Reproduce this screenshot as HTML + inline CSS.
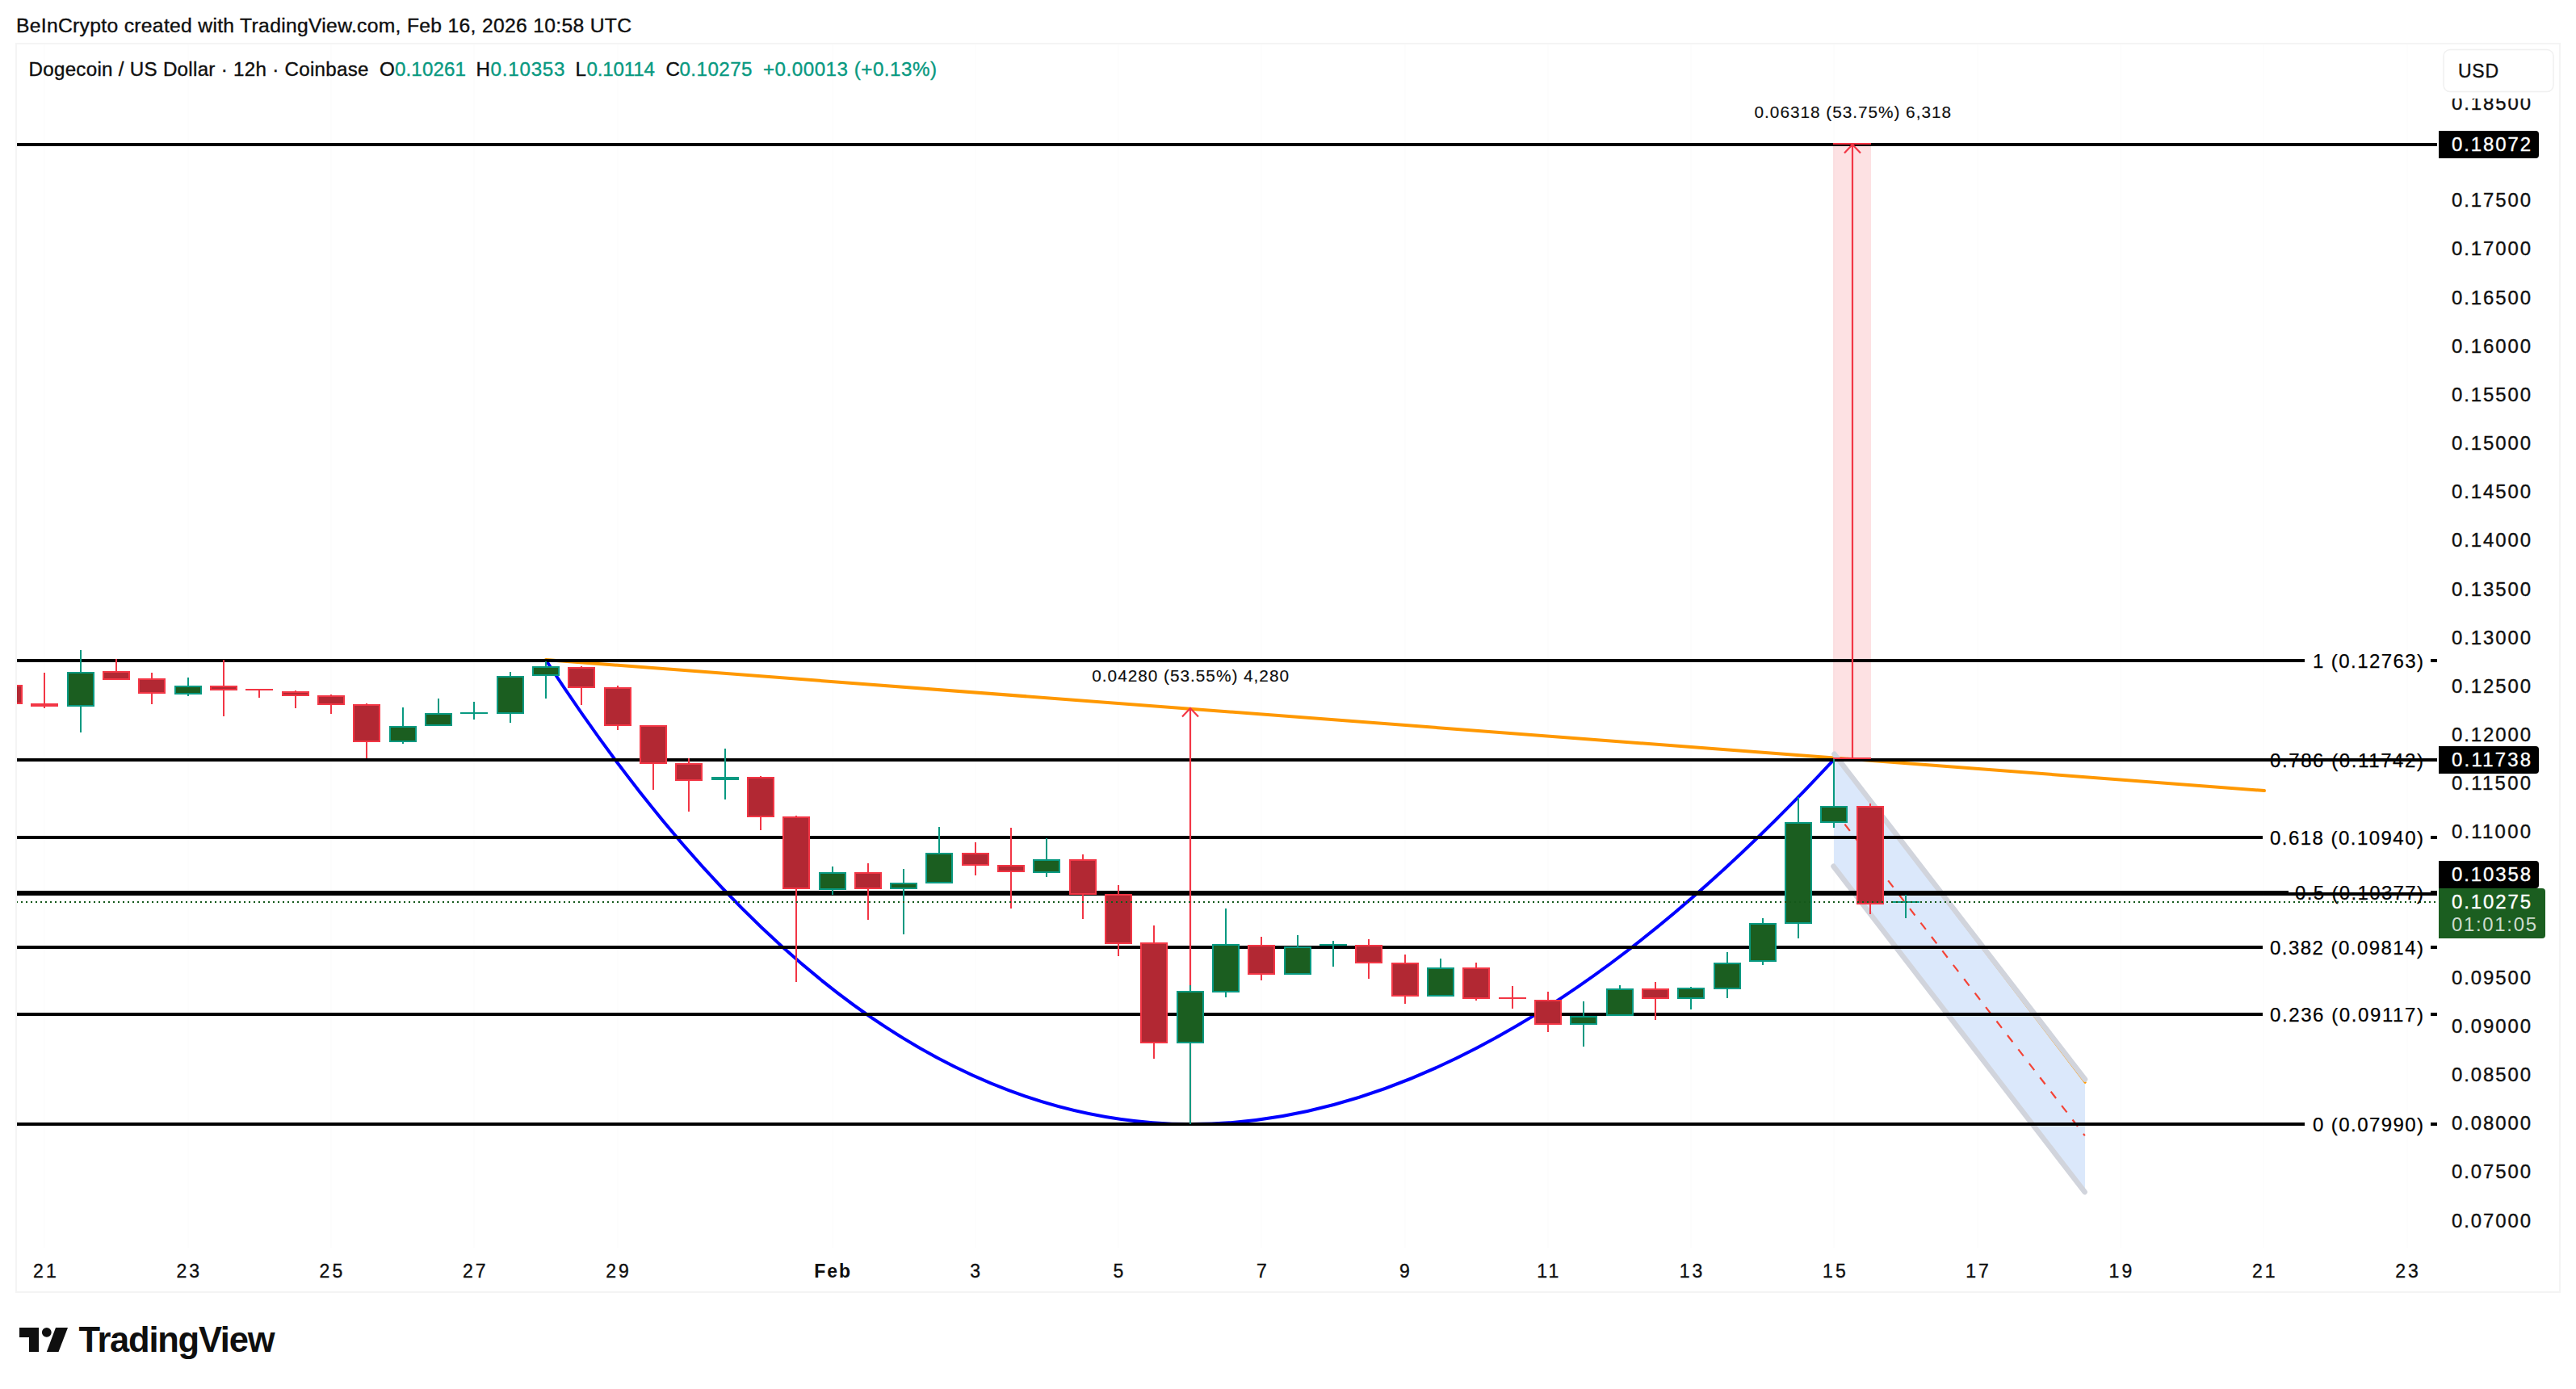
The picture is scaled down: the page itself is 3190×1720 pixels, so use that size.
<!DOCTYPE html>
<html lang="en"><head><meta charset="utf-8"><title>Dogecoin / US Dollar chart</title>
<style>html,body{margin:0;padding:0;background:#fff}body{width:3190px;height:1720px;overflow:hidden}svg{display:block}</style></head>
<body>
<svg width="3190" height="1720" viewBox="0 0 3190 1720" font-family='"Liberation Sans", sans-serif'>
<rect width="3190" height="1720" fill="#fff"/>
<rect x="20" y="54" width="3150" height="1546" fill="none" stroke="#f4f4f4" stroke-width="2"/>
<defs><clipPath id="pane"><rect x="21" y="55" width="2997" height="1490"/></clipPath></defs>
<g clip-path="url(#pane)">
<g fill="#fdfdfd" shape-rendering="crispEdges">
<rect x="54" y="55" width="2" height="1490"/>
<rect x="232" y="55" width="2" height="1490"/>
<rect x="409" y="55" width="2" height="1490"/>
<rect x="586" y="55" width="2" height="1490"/>
<rect x="764" y="55" width="2" height="1490"/>
<rect x="1030" y="55" width="2" height="1490"/>
<rect x="1207" y="55" width="2" height="1490"/>
<rect x="1384" y="55" width="2" height="1490"/>
<rect x="1561" y="55" width="2" height="1490"/>
<rect x="1739" y="55" width="2" height="1490"/>
<rect x="1916" y="55" width="2" height="1490"/>
<rect x="2093" y="55" width="2" height="1490"/>
<rect x="2270" y="55" width="2" height="1490"/>
<rect x="2448" y="55" width="2" height="1490"/>
<rect x="2625" y="55" width="2" height="1490"/>
<rect x="2802" y="55" width="2" height="1490"/>
<rect x="2980" y="55" width="2" height="1490"/>
</g>
<line x1="676" y1="817" x2="2804" y2="979" stroke="#ff9800" stroke-width="4" stroke-linecap="round"/>
<path d="M676.4 818 Q1380.7 1901 2270.8 940.8" fill="none" stroke="#0000ff" stroke-width="4" stroke-linecap="round"/>
<rect x="2270" y="178" width="47" height="761" fill="#f23645" fill-opacity="0.15"/>
<polygon points="2271,933.7 2582,1336.5 2582,1476.1 2271,1072.7" fill="#dbe8fb"/>
<line x1="2271.5" y1="934" x2="2582.2" y2="1340.3" stroke="#ff9800" stroke-width="3" stroke-linecap="round"/>
<g stroke="#d1d4dc" stroke-width="6.5" stroke-linecap="round">
<line x1="2271.5" y1="933.7" x2="2582" y2="1336.5"/>
<line x1="2270.5" y1="1072.7" x2="2581.6" y2="1476.1"/>
</g>
<line x1="2271" y1="1003.2" x2="2581.8" y2="1406.3" stroke="#f44336" stroke-width="2.2" stroke-dasharray="10.5 11.5"/>
<g fill="#000" shape-rendering="crispEdges">
<rect x="21" y="816" width="2833" height="4"/>
<rect x="3010" y="816" width="8" height="4"/>
<rect x="21" y="939" width="2781" height="4"/>
<rect x="3010" y="939" width="8" height="4"/>
<rect x="21" y="1035" width="2781" height="4"/>
<rect x="3010" y="1035" width="8" height="4"/>
<rect x="21" y="1103" width="2813" height="4"/>
<rect x="3010" y="1103" width="8" height="4"/>
<rect x="21" y="1171" width="2781" height="4"/>
<rect x="3010" y="1171" width="8" height="4"/>
<rect x="21" y="1254" width="2781" height="4"/>
<rect x="3010" y="1254" width="8" height="4"/>
<rect x="21" y="1390" width="2833" height="4"/>
<rect x="3010" y="1390" width="8" height="4"/>
<rect x="21" y="177" width="2997" height="4"/>
<rect x="21" y="939" width="2997" height="4"/>
<rect x="21" y="1105" width="2997" height="4"/>
</g>
<g stroke="#f23645" stroke-width="2.2" fill="none">
<line x1="1474" y1="1392" x2="1474" y2="877"/>
<polyline points="1464,887.5 1474,877 1484,887.5"/>
<line x1="2294" y1="938" x2="2294" y2="179"/>
<polyline points="2284,189.5 2294,179 2304,189.5"/>
<line x1="2270" y1="178" x2="2317" y2="178"/>
<line x1="2270" y1="939" x2="2317" y2="939"/>
</g>
<g shape-rendering="crispEdges">
<rect x="-6" y="848" width="34" height="24" fill="#f23645"/>
<rect x="-4" y="850" width="30" height="20" fill="#b22833"/>
<rect x="54" y="833" width="2" height="44" fill="#f23645"/>
<rect x="38" y="871" width="34" height="4" fill="#f23645"/>
<rect x="99" y="805" width="2" height="102" fill="#089981"/>
<rect x="83" y="832" width="34" height="43" fill="#089981"/>
<rect x="85" y="834" width="30" height="39" fill="#1b5e20"/>
<rect x="143" y="816" width="2" height="26" fill="#f23645"/>
<rect x="127" y="831" width="34" height="11" fill="#f23645"/>
<rect x="129" y="833" width="30" height="7" fill="#b22833"/>
<rect x="187" y="833" width="2" height="39" fill="#f23645"/>
<rect x="171" y="840" width="34" height="19" fill="#f23645"/>
<rect x="173" y="842" width="30" height="15" fill="#b22833"/>
<rect x="232" y="839" width="2" height="23" fill="#089981"/>
<rect x="216" y="849" width="34" height="11" fill="#089981"/>
<rect x="218" y="851" width="30" height="7" fill="#1b5e20"/>
<rect x="276" y="817" width="2" height="70" fill="#f23645"/>
<rect x="260" y="849" width="34" height="6" fill="#f23645"/>
<rect x="262" y="851" width="30" height="2" fill="#b22833"/>
<rect x="320" y="853" width="2" height="11" fill="#f23645"/>
<rect x="304" y="853" width="34" height="2" fill="#f23645"/>
<rect x="365" y="855" width="2" height="22" fill="#f23645"/>
<rect x="349" y="856" width="34" height="6" fill="#f23645"/>
<rect x="351" y="858" width="30" height="2" fill="#b22833"/>
<rect x="409" y="860" width="2" height="24" fill="#f23645"/>
<rect x="393" y="861" width="34" height="12" fill="#f23645"/>
<rect x="395" y="863" width="30" height="8" fill="#b22833"/>
<rect x="453" y="871" width="2" height="68" fill="#f23645"/>
<rect x="437" y="872" width="34" height="47" fill="#f23645"/>
<rect x="439" y="874" width="30" height="43" fill="#b22833"/>
<rect x="498" y="876" width="2" height="45" fill="#089981"/>
<rect x="482" y="899" width="34" height="20" fill="#089981"/>
<rect x="484" y="901" width="30" height="16" fill="#1b5e20"/>
<rect x="542" y="865" width="2" height="34" fill="#089981"/>
<rect x="526" y="883" width="34" height="16" fill="#089981"/>
<rect x="528" y="885" width="30" height="12" fill="#1b5e20"/>
<rect x="586" y="869" width="2" height="22" fill="#089981"/>
<rect x="570" y="882" width="34" height="2" fill="#089981"/>
<rect x="631" y="832" width="2" height="63" fill="#089981"/>
<rect x="615" y="837" width="34" height="47" fill="#089981"/>
<rect x="617" y="839" width="30" height="43" fill="#1b5e20"/>
<rect x="675" y="819" width="2" height="46" fill="#089981"/>
<rect x="659" y="825" width="34" height="12" fill="#089981"/>
<rect x="661" y="827" width="30" height="8" fill="#1b5e20"/>
<rect x="719" y="825" width="2" height="48" fill="#f23645"/>
<rect x="703" y="826" width="34" height="26" fill="#f23645"/>
<rect x="705" y="828" width="30" height="22" fill="#b22833"/>
<rect x="764" y="849" width="2" height="55" fill="#f23645"/>
<rect x="748" y="851" width="34" height="48" fill="#f23645"/>
<rect x="750" y="853" width="30" height="44" fill="#b22833"/>
<rect x="808" y="898" width="2" height="80" fill="#f23645"/>
<rect x="792" y="898" width="34" height="48" fill="#f23645"/>
<rect x="794" y="900" width="30" height="44" fill="#b22833"/>
<rect x="852" y="939" width="2" height="66" fill="#f23645"/>
<rect x="836" y="945" width="34" height="22" fill="#f23645"/>
<rect x="838" y="947" width="30" height="18" fill="#b22833"/>
<rect x="897" y="927" width="2" height="63" fill="#089981"/>
<rect x="881" y="962" width="34" height="4" fill="#089981"/>
<rect x="941" y="961" width="2" height="67" fill="#f23645"/>
<rect x="925" y="962" width="34" height="50" fill="#f23645"/>
<rect x="927" y="964" width="30" height="46" fill="#b22833"/>
<rect x="985" y="1010" width="2" height="206" fill="#f23645"/>
<rect x="969" y="1011" width="34" height="90" fill="#f23645"/>
<rect x="971" y="1013" width="30" height="86" fill="#b22833"/>
<rect x="1030" y="1073" width="2" height="35" fill="#089981"/>
<rect x="1014" y="1080" width="34" height="22" fill="#089981"/>
<rect x="1016" y="1082" width="30" height="18" fill="#1b5e20"/>
<rect x="1074" y="1069" width="2" height="70" fill="#f23645"/>
<rect x="1058" y="1080" width="34" height="21" fill="#f23645"/>
<rect x="1060" y="1082" width="30" height="17" fill="#b22833"/>
<rect x="1118" y="1076" width="2" height="81" fill="#089981"/>
<rect x="1102" y="1093" width="34" height="8" fill="#089981"/>
<rect x="1104" y="1095" width="30" height="4" fill="#1b5e20"/>
<rect x="1162" y="1024" width="2" height="70" fill="#089981"/>
<rect x="1146" y="1056" width="34" height="38" fill="#089981"/>
<rect x="1148" y="1058" width="30" height="34" fill="#1b5e20"/>
<rect x="1207" y="1043" width="2" height="41" fill="#f23645"/>
<rect x="1191" y="1056" width="34" height="16" fill="#f23645"/>
<rect x="1193" y="1058" width="30" height="12" fill="#b22833"/>
<rect x="1251" y="1025" width="2" height="100" fill="#f23645"/>
<rect x="1235" y="1071" width="34" height="9" fill="#f23645"/>
<rect x="1237" y="1073" width="30" height="5" fill="#b22833"/>
<rect x="1295" y="1038" width="2" height="48" fill="#089981"/>
<rect x="1279" y="1064" width="34" height="17" fill="#089981"/>
<rect x="1281" y="1066" width="30" height="13" fill="#1b5e20"/>
<rect x="1340" y="1058" width="2" height="80" fill="#f23645"/>
<rect x="1324" y="1064" width="34" height="44" fill="#f23645"/>
<rect x="1326" y="1066" width="30" height="40" fill="#b22833"/>
<rect x="1384" y="1096" width="2" height="88" fill="#f23645"/>
<rect x="1368" y="1107" width="34" height="62" fill="#f23645"/>
<rect x="1370" y="1109" width="30" height="58" fill="#b22833"/>
<rect x="1428" y="1146" width="2" height="165" fill="#f23645"/>
<rect x="1412" y="1167" width="34" height="125" fill="#f23645"/>
<rect x="1414" y="1169" width="30" height="121" fill="#b22833"/>
<rect x="1473" y="1220" width="2" height="172" fill="#089981"/>
<rect x="1457" y="1227" width="34" height="65" fill="#089981"/>
<rect x="1459" y="1229" width="30" height="61" fill="#1b5e20"/>
<rect x="1517" y="1125" width="2" height="110" fill="#089981"/>
<rect x="1501" y="1169" width="34" height="60" fill="#089981"/>
<rect x="1503" y="1171" width="30" height="56" fill="#1b5e20"/>
<rect x="1561" y="1160" width="2" height="54" fill="#f23645"/>
<rect x="1545" y="1170" width="34" height="37" fill="#f23645"/>
<rect x="1547" y="1172" width="30" height="33" fill="#b22833"/>
<rect x="1606" y="1158" width="2" height="49" fill="#089981"/>
<rect x="1590" y="1172" width="34" height="35" fill="#089981"/>
<rect x="1592" y="1174" width="30" height="31" fill="#1b5e20"/>
<rect x="1650" y="1165" width="2" height="32" fill="#089981"/>
<rect x="1634" y="1169" width="34" height="2" fill="#089981"/>
<rect x="1694" y="1163" width="2" height="49" fill="#f23645"/>
<rect x="1678" y="1170" width="34" height="23" fill="#f23645"/>
<rect x="1680" y="1172" width="30" height="19" fill="#b22833"/>
<rect x="1739" y="1182" width="2" height="61" fill="#f23645"/>
<rect x="1723" y="1192" width="34" height="42" fill="#f23645"/>
<rect x="1725" y="1194" width="30" height="38" fill="#b22833"/>
<rect x="1783" y="1187" width="2" height="47" fill="#089981"/>
<rect x="1767" y="1198" width="34" height="36" fill="#089981"/>
<rect x="1769" y="1200" width="30" height="32" fill="#1b5e20"/>
<rect x="1827" y="1192" width="2" height="47" fill="#f23645"/>
<rect x="1811" y="1198" width="34" height="39" fill="#f23645"/>
<rect x="1813" y="1200" width="30" height="35" fill="#b22833"/>
<rect x="1872" y="1221" width="2" height="28" fill="#f23645"/>
<rect x="1856" y="1235" width="34" height="2" fill="#f23645"/>
<rect x="1916" y="1228" width="2" height="50" fill="#f23645"/>
<rect x="1900" y="1238" width="34" height="31" fill="#f23645"/>
<rect x="1902" y="1240" width="30" height="27" fill="#b22833"/>
<rect x="1960" y="1240" width="2" height="56" fill="#089981"/>
<rect x="1944" y="1258" width="34" height="11" fill="#089981"/>
<rect x="1946" y="1260" width="30" height="7" fill="#1b5e20"/>
<rect x="2005" y="1220" width="2" height="38" fill="#089981"/>
<rect x="1989" y="1224" width="34" height="34" fill="#089981"/>
<rect x="1991" y="1226" width="30" height="30" fill="#1b5e20"/>
<rect x="2049" y="1216" width="2" height="47" fill="#f23645"/>
<rect x="2033" y="1224" width="34" height="13" fill="#f23645"/>
<rect x="2035" y="1226" width="30" height="9" fill="#b22833"/>
<rect x="2093" y="1222" width="2" height="28" fill="#089981"/>
<rect x="2077" y="1223" width="34" height="14" fill="#089981"/>
<rect x="2079" y="1225" width="30" height="10" fill="#1b5e20"/>
<rect x="2138" y="1179" width="2" height="57" fill="#089981"/>
<rect x="2122" y="1192" width="34" height="33" fill="#089981"/>
<rect x="2124" y="1194" width="30" height="29" fill="#1b5e20"/>
<rect x="2182" y="1137" width="2" height="58" fill="#089981"/>
<rect x="2166" y="1143" width="34" height="48" fill="#089981"/>
<rect x="2168" y="1145" width="30" height="44" fill="#1b5e20"/>
<rect x="2226" y="987" width="2" height="175" fill="#089981"/>
<rect x="2210" y="1018" width="34" height="126" fill="#089981"/>
<rect x="2212" y="1020" width="30" height="122" fill="#1b5e20"/>
<rect x="2270" y="940" width="2" height="85" fill="#089981"/>
<rect x="2254" y="998" width="34" height="21" fill="#089981"/>
<rect x="2256" y="1000" width="30" height="17" fill="#1b5e20"/>
<rect x="2315" y="995" width="2" height="137" fill="#f23645"/>
<rect x="2299" y="998" width="34" height="122" fill="#f23645"/>
<rect x="2301" y="1000" width="30" height="118" fill="#b22833"/>
<rect x="2359" y="1108" width="2" height="29" fill="#089981"/>
<rect x="2343" y="1116" width="34" height="2" fill="#089981"/>
</g>
<line x1="20" y1="1117" x2="3018" y2="1117" stroke="#14581a" stroke-width="2" stroke-dasharray="2 4" shape-rendering="crispEdges"/>
</g>
<text transform="translate(1352.3 843.6) scale(1.04 1)" font-size="20" fill="#0f0f0f" stroke="#0f0f0f" stroke-width="0.15" textLength="234.33" lengthAdjust="spacing">0.04280 (53.55%) 4,280</text>
<text transform="translate(2172.6 146) scale(1.04 1)" font-size="20" fill="#0f0f0f" stroke="#0f0f0f" stroke-width="0.15" textLength="234.04" lengthAdjust="spacing">0.06318 (53.75%) 6,318</text>
<text transform="translate(2864 826.8)" font-size="24" fill="#000" stroke="#000" stroke-width="0.25" textLength="137.00" lengthAdjust="spacing">1 (0.12763)</text>
<text transform="translate(2811 949.6)" font-size="24" fill="#000" stroke="#000" stroke-width="0.25" textLength="190.00" lengthAdjust="spacing">0.786 (0.11742)</text>
<text transform="translate(2811 1046.1)" font-size="24" fill="#000" stroke="#000" stroke-width="0.25" textLength="190.00" lengthAdjust="spacing">0.618 (0.10940)</text>
<text transform="translate(2842 1113.8)" font-size="24" fill="#000" stroke="#000" stroke-width="0.25" textLength="159.00" lengthAdjust="spacing">0.5 (0.10377)</text>
<text transform="translate(2811 1181.6)" font-size="24" fill="#000" stroke="#000" stroke-width="0.25" textLength="190.00" lengthAdjust="spacing">0.382 (0.09814)</text>
<text transform="translate(2811 1265.4)" font-size="24" fill="#000" stroke="#000" stroke-width="0.25" textLength="190.00" lengthAdjust="spacing">0.236 (0.09117)</text>
<text transform="translate(2864 1401.0)" font-size="24" fill="#000" stroke="#000" stroke-width="0.25" textLength="137.00" lengthAdjust="spacing">0 (0.07990)</text>
<text transform="translate(3036 135.9) scale(1.02 1)" font-size="23.5" fill="#0f0f0f" stroke="#0f0f0f" stroke-width="0.35" textLength="96.08" lengthAdjust="spacing">0.18500</text>
<text transform="translate(3036 256.3) scale(1.02 1)" font-size="23.5" fill="#0f0f0f" stroke="#0f0f0f" stroke-width="0.35" textLength="96.08" lengthAdjust="spacing">0.17500</text>
<text transform="translate(3036 316.4) scale(1.02 1)" font-size="23.5" fill="#0f0f0f" stroke="#0f0f0f" stroke-width="0.35" textLength="96.08" lengthAdjust="spacing">0.17000</text>
<text transform="translate(3036 376.6) scale(1.02 1)" font-size="23.5" fill="#0f0f0f" stroke="#0f0f0f" stroke-width="0.35" textLength="96.08" lengthAdjust="spacing">0.16500</text>
<text transform="translate(3036 436.7) scale(1.02 1)" font-size="23.5" fill="#0f0f0f" stroke="#0f0f0f" stroke-width="0.35" textLength="96.08" lengthAdjust="spacing">0.16000</text>
<text transform="translate(3036 496.9) scale(1.02 1)" font-size="23.5" fill="#0f0f0f" stroke="#0f0f0f" stroke-width="0.35" textLength="96.08" lengthAdjust="spacing">0.15500</text>
<text transform="translate(3036 557.0) scale(1.02 1)" font-size="23.5" fill="#0f0f0f" stroke="#0f0f0f" stroke-width="0.35" textLength="96.08" lengthAdjust="spacing">0.15000</text>
<text transform="translate(3036 617.2) scale(1.02 1)" font-size="23.5" fill="#0f0f0f" stroke="#0f0f0f" stroke-width="0.35" textLength="96.08" lengthAdjust="spacing">0.14500</text>
<text transform="translate(3036 677.3) scale(1.02 1)" font-size="23.5" fill="#0f0f0f" stroke="#0f0f0f" stroke-width="0.35" textLength="96.08" lengthAdjust="spacing">0.14000</text>
<text transform="translate(3036 737.5) scale(1.02 1)" font-size="23.5" fill="#0f0f0f" stroke="#0f0f0f" stroke-width="0.35" textLength="96.08" lengthAdjust="spacing">0.13500</text>
<text transform="translate(3036 797.7) scale(1.02 1)" font-size="23.5" fill="#0f0f0f" stroke="#0f0f0f" stroke-width="0.35" textLength="96.08" lengthAdjust="spacing">0.13000</text>
<text transform="translate(3036 857.8) scale(1.02 1)" font-size="23.5" fill="#0f0f0f" stroke="#0f0f0f" stroke-width="0.35" textLength="96.08" lengthAdjust="spacing">0.12500</text>
<text transform="translate(3036 918.0) scale(1.02 1)" font-size="23.5" fill="#0f0f0f" stroke="#0f0f0f" stroke-width="0.35" textLength="96.08" lengthAdjust="spacing">0.12000</text>
<text transform="translate(3036 978.1) scale(1.02 1)" font-size="23.5" fill="#0f0f0f" stroke="#0f0f0f" stroke-width="0.35" textLength="96.08" lengthAdjust="spacing">0.11500</text>
<text transform="translate(3036 1038.3) scale(1.02 1)" font-size="23.5" fill="#0f0f0f" stroke="#0f0f0f" stroke-width="0.35" textLength="96.08" lengthAdjust="spacing">0.11000</text>
<text transform="translate(3036 1218.7) scale(1.02 1)" font-size="23.5" fill="#0f0f0f" stroke="#0f0f0f" stroke-width="0.35" textLength="96.08" lengthAdjust="spacing">0.09500</text>
<text transform="translate(3036 1278.9) scale(1.02 1)" font-size="23.5" fill="#0f0f0f" stroke="#0f0f0f" stroke-width="0.35" textLength="96.08" lengthAdjust="spacing">0.09000</text>
<text transform="translate(3036 1339.1) scale(1.02 1)" font-size="23.5" fill="#0f0f0f" stroke="#0f0f0f" stroke-width="0.35" textLength="96.08" lengthAdjust="spacing">0.08500</text>
<text transform="translate(3036 1399.2) scale(1.02 1)" font-size="23.5" fill="#0f0f0f" stroke="#0f0f0f" stroke-width="0.35" textLength="96.08" lengthAdjust="spacing">0.08000</text>
<text transform="translate(3036 1459.4) scale(1.02 1)" font-size="23.5" fill="#0f0f0f" stroke="#0f0f0f" stroke-width="0.35" textLength="96.08" lengthAdjust="spacing">0.07500</text>
<text transform="translate(3036 1519.5) scale(1.02 1)" font-size="23.5" fill="#0f0f0f" stroke="#0f0f0f" stroke-width="0.35" textLength="96.08" lengthAdjust="spacing">0.07000</text>
<rect x="3020" y="56" width="148" height="66" fill="#fff"/>
<rect x="3026" y="61.5" width="136" height="52" rx="8" fill="#fff" stroke="#f0f0f0" stroke-width="1.5"/>
<text transform="translate(3044 96)" font-size="23" fill="#0f0f0f" stroke="#0f0f0f" stroke-width="0.35" textLength="50.00" lengthAdjust="spacing">USD</text>
<path d="M3020 162H3140Q3144 162 3144 166V192Q3144 196 3140 196H3020Z" fill="#000"/>
<text transform="translate(3036 187.3) scale(1.04 1)" font-size="23" fill="#fff" stroke="#fff" stroke-width="0.35" textLength="94.23" lengthAdjust="spacing">0.18072</text>
<path d="M3020 924H3140Q3144 924 3144 928V954Q3144 958 3140 958H3020Z" fill="#000"/>
<text transform="translate(3036 949.3) scale(1.04 1)" font-size="23" fill="#fff" stroke="#fff" stroke-width="0.35" textLength="94.23" lengthAdjust="spacing">0.11738</text>
<path d="M3020 1066H3140Q3144 1066 3144 1070V1096Q3144 1100 3140 1100H3020Z" fill="#000"/>
<text transform="translate(3036 1091.3) scale(1.04 1)" font-size="23" fill="#fff" stroke="#fff" stroke-width="0.35" textLength="94.23" lengthAdjust="spacing">0.10358</text>
<path d="M3020 1100H3148Q3152 1100 3152 1104V1158Q3152 1162 3148 1162H3020Z" fill="#1b5e20"/>
<text transform="translate(3036 1125) scale(1.04 1)" font-size="23" fill="#fff" stroke="#fff" stroke-width="0.35" textLength="94.23" lengthAdjust="spacing">0.10275</text>
<text transform="translate(3036 1153.3) scale(1.04 1)" font-size="23" fill="#fff" textLength="100.96" lengthAdjust="spacing" fill-opacity="0.8">01:01:05</text>
<text x="56.9" y="1582" font-size="23" fill="#0f0f0f" stroke="#0f0f0f" stroke-width="0.35" text-anchor="middle" letter-spacing="3">21</text>
<text x="234.2" y="1582" font-size="23" fill="#0f0f0f" stroke="#0f0f0f" stroke-width="0.35" text-anchor="middle" letter-spacing="3">23</text>
<text x="411.4" y="1582" font-size="23" fill="#0f0f0f" stroke="#0f0f0f" stroke-width="0.35" text-anchor="middle" letter-spacing="3">25</text>
<text x="588.7" y="1582" font-size="23" fill="#0f0f0f" stroke="#0f0f0f" stroke-width="0.35" text-anchor="middle" letter-spacing="3">27</text>
<text x="766.0" y="1582" font-size="23" fill="#0f0f0f" stroke="#0f0f0f" stroke-width="0.35" text-anchor="middle" letter-spacing="3">29</text>
<text x="1031.7" y="1582" font-size="23" font-weight="bold" fill="#0f0f0f" text-anchor="middle" letter-spacing="2">Feb</text>
<text x="1209.2" y="1582" font-size="23" fill="#0f0f0f" stroke="#0f0f0f" stroke-width="0.35" text-anchor="middle" letter-spacing="3">3</text>
<text x="1386.5" y="1582" font-size="23" fill="#0f0f0f" stroke="#0f0f0f" stroke-width="0.35" text-anchor="middle" letter-spacing="3">5</text>
<text x="1563.8" y="1582" font-size="23" fill="#0f0f0f" stroke="#0f0f0f" stroke-width="0.35" text-anchor="middle" letter-spacing="3">7</text>
<text x="1741.0" y="1582" font-size="23" fill="#0f0f0f" stroke="#0f0f0f" stroke-width="0.35" text-anchor="middle" letter-spacing="3">9</text>
<text x="1918.3" y="1582" font-size="23" fill="#0f0f0f" stroke="#0f0f0f" stroke-width="0.35" text-anchor="middle" letter-spacing="3">11</text>
<text x="2095.6" y="1582" font-size="23" fill="#0f0f0f" stroke="#0f0f0f" stroke-width="0.35" text-anchor="middle" letter-spacing="3">13</text>
<text x="2272.9" y="1582" font-size="23" fill="#0f0f0f" stroke="#0f0f0f" stroke-width="0.35" text-anchor="middle" letter-spacing="3">15</text>
<text x="2450.1" y="1582" font-size="23" fill="#0f0f0f" stroke="#0f0f0f" stroke-width="0.35" text-anchor="middle" letter-spacing="3">17</text>
<text x="2627.4" y="1582" font-size="23" fill="#0f0f0f" stroke="#0f0f0f" stroke-width="0.35" text-anchor="middle" letter-spacing="3">19</text>
<text x="2804.7" y="1582" font-size="23" fill="#0f0f0f" stroke="#0f0f0f" stroke-width="0.35" text-anchor="middle" letter-spacing="3">21</text>
<text x="2982.0" y="1582" font-size="23" fill="#0f0f0f" stroke="#0f0f0f" stroke-width="0.35" text-anchor="middle" letter-spacing="3">23</text>
<text transform="translate(20 40.4) scale(1.05 1)" font-size="23.5" fill="#0f0f0f" stroke="#0f0f0f" stroke-width="0.35" textLength="725.71" lengthAdjust="spacing">BeInCrypto created with TradingView.com, Feb 16, 2026 10:58 UTC</text>
<text transform="translate(35.5 94) scale(1.05 1)" font-size="23" fill="#0f0f0f" stroke="#0f0f0f" stroke-width="0.35" textLength="400.95" lengthAdjust="spacing">Dogecoin / US Dollar · 12h · Coinbase</text>
<text transform="translate(470 94) scale(1.05 1)" font-size="23" fill="#0f0f0f" stroke="#0f0f0f" stroke-width="0.35" textLength="17.62" lengthAdjust="spacing">O</text>
<text transform="translate(489 94) scale(1.05 1)" font-size="23" fill="#089981" stroke="#089981" stroke-width="0.35" textLength="83.81" lengthAdjust="spacing">0.10261</text>
<text transform="translate(589.5 94) scale(1.05 1)" font-size="23" fill="#0f0f0f" stroke="#0f0f0f" stroke-width="0.35" textLength="17.14" lengthAdjust="spacing">H</text>
<text transform="translate(607.5 94) scale(1.05 1)" font-size="23" fill="#089981" stroke="#089981" stroke-width="0.35" textLength="87.62" lengthAdjust="spacing">0.10353</text>
<text transform="translate(712.5 94) scale(1.05 1)" font-size="23" fill="#0f0f0f" stroke="#0f0f0f" stroke-width="0.35" textLength="12.86" lengthAdjust="spacing">L</text>
<text transform="translate(726.5 94) scale(1.05 1)" font-size="23" fill="#089981" stroke="#089981" stroke-width="0.35" textLength="80.48" lengthAdjust="spacing">0.10114</text>
<text transform="translate(824.5 94) scale(1.05 1)" font-size="23" fill="#0f0f0f" stroke="#0f0f0f" stroke-width="0.35" textLength="16.19" lengthAdjust="spacing">C</text>
<text transform="translate(841.5 94) scale(1.05 1)" font-size="23" fill="#089981" stroke="#089981" stroke-width="0.35" textLength="85.71" lengthAdjust="spacing">0.10275</text>
<text transform="translate(945 94) scale(1.05 1)" font-size="23" fill="#089981" stroke="#089981" stroke-width="0.35" textLength="204.76" lengthAdjust="spacing">+0.00013 (+0.13%)</text>
<g fill="#0f0f0f">
<path d="M24 1644H48V1674H36V1656H24Z"/>
<circle cx="57.8" cy="1649.8" r="5.9"/>
<path d="M69 1644H84L72.5 1674H57.8Z"/>
</g>
<text transform="translate(97.5 1674)" font-size="43.5" fill="#0f0f0f" font-weight="bold" textLength="243.00" lengthAdjust="spacing">TradingView</text>
</svg>
</body></html>
